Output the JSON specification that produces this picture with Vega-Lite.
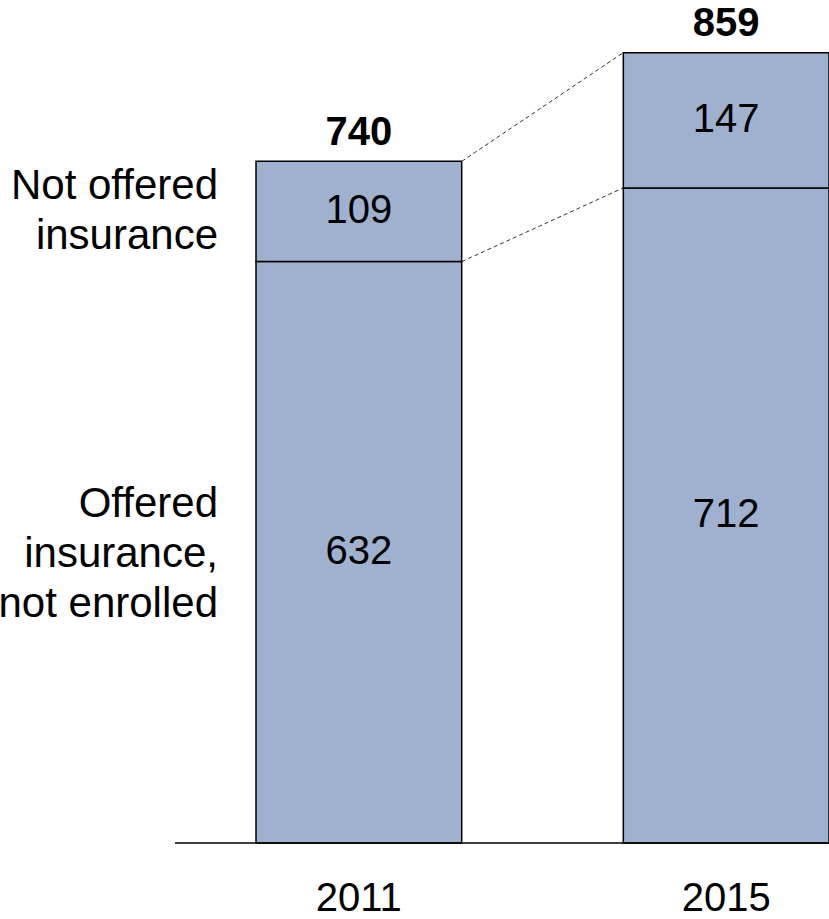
{
  "$schema": "https://vega.github.io/schema/vega-lite/v6.json",
  "width": 654,
  "height": 828,
  "autosize": "none",
  "padding": {"left": 175, "top": 15, "right": 0, "bottom": 76},
  "background": "white",
  "config": {"view": {"stroke": null}, "font": "Liberation Sans"},
  "datasets": {
    "segments": [
      {"year": "2011", "segment": "Offered insurance, not enrolled", "order": 1, "value": 632, "lines": ["Offered", "insurance,", "not enrolled"]},
      {"year": "2011", "segment": "Not offered insurance", "order": 2, "value": 109, "lines": ["Not offered", "insurance"]},
      {"year": "2015", "segment": "Offered insurance, not enrolled", "order": 1, "value": 712, "lines": ["Offered", "insurance,", "not enrolled"]},
      {"year": "2015", "segment": "Not offered insurance", "order": 2, "value": 147, "lines": ["Not offered", "insurance"]}
    ],
    "totals": [
      {"year": "2011", "total": 740},
      {"year": "2015", "total": 859}
    ],
    "links": [
      {"from": "2011", "to": "2015", "start": 741, "end": 859},
      {"from": "2011", "to": "2015", "start": 632, "end": 712}
    ]
  },
  "layer": [
    {
      "data": {"name": "segments"},
      "mark": {"type": "bar", "fill": "#9FB1CE", "stroke": "black", "strokeWidth": 1.5},
      "encoding": {
        "x": {
          "field": "year", "type": "nominal",
          "scale": {"range": [81, 654], "paddingInner": 0.44, "paddingOuter": 0},
          "axis": {"title": null, "domain": false, "ticks": false, "tickSize": 0, "labelAngle": 0, "labelFontSize": 40, "labelColor": "black", "labelFont": "Liberation Sans", "labelBaseline": "alphabetic", "labelPadding": 67}
        },
        "y": {"field": "value", "type": "quantitative", "stack": "zero", "scale": {"domain": [0, 900]}, "axis": null},
        "detail": {"field": "segment"},
        "order": {"field": "order", "type": "quantitative"}
      }
    },
    {
      "data": {"name": "segments"},
      "mark": {"type": "text", "fontSize": 40, "color": "black", "baseline": "middle", "align": "center"},
      "encoding": {
        "x": {"field": "year", "type": "nominal"},
        "y": {"field": "value", "type": "quantitative", "stack": "zero", "bandPosition": 0.5},
        "detail": {"field": "segment"},
        "order": {"field": "order", "type": "quantitative"},
        "text": {"field": "value", "type": "quantitative"}
      }
    },
    {
      "data": {"name": "segments"},
      "transform": [{"filter": "datum.year === '2011'"}],
      "mark": {"type": "text", "fontSize": 42, "color": "black", "baseline": "middle", "align": "right", "dx": -38, "dy": -25, "lineHeight": 50},
      "encoding": {
        "x": {"field": "year", "type": "nominal", "bandPosition": 0},
        "y": {"field": "value", "type": "quantitative", "stack": "zero", "bandPosition": 0.5},
        "detail": {"field": "segment"},
        "order": {"field": "order", "type": "quantitative"},
        "text": {"condition": {"test": "datum.order === 2", "field": "lines"}, "value": ""}
      }
    },
    {
      "data": {"name": "segments"},
      "transform": [{"filter": "datum.year === '2011'"}],
      "mark": {"type": "text", "fontSize": 42, "color": "black", "baseline": "middle", "align": "right", "dx": -38, "dy": -48, "lineHeight": 50},
      "encoding": {
        "x": {"field": "year", "type": "nominal", "bandPosition": 0},
        "y": {"field": "value", "type": "quantitative", "stack": "zero", "bandPosition": 0.5},
        "detail": {"field": "segment"},
        "order": {"field": "order", "type": "quantitative"},
        "text": {"condition": {"test": "datum.order === 1", "field": "lines"}, "value": ""}
      }
    },
    {
      "data": {"name": "totals"},
      "mark": {"type": "text", "fontSize": 40, "fontWeight": "bold", "color": "black", "baseline": "alphabetic", "align": "center", "dy": -17},
      "encoding": {
        "x": {"field": "year", "type": "nominal"},
        "y": {"field": "total", "type": "quantitative"},
        "text": {"field": "total", "type": "quantitative"}
      }
    },
    {
      "data": {"name": "links"},
      "mark": {"type": "rule", "color": "#333333", "strokeWidth": 1, "strokeDash": [4, 3], "xOffset": 103, "x2Offset": -103},
      "encoding": {
        "x": {"field": "from", "type": "nominal"},
        "x2": {"field": "to"},
        "y": {"field": "start", "type": "quantitative"},
        "y2": {"field": "end"}
      }
    },
    {
      "data": {"values": [{}]},
      "mark": {"type": "rule", "color": "black", "strokeWidth": 1.5},
      "encoding": {"y": {"datum": 0, "type": "quantitative"}}
    }
  ]
}
